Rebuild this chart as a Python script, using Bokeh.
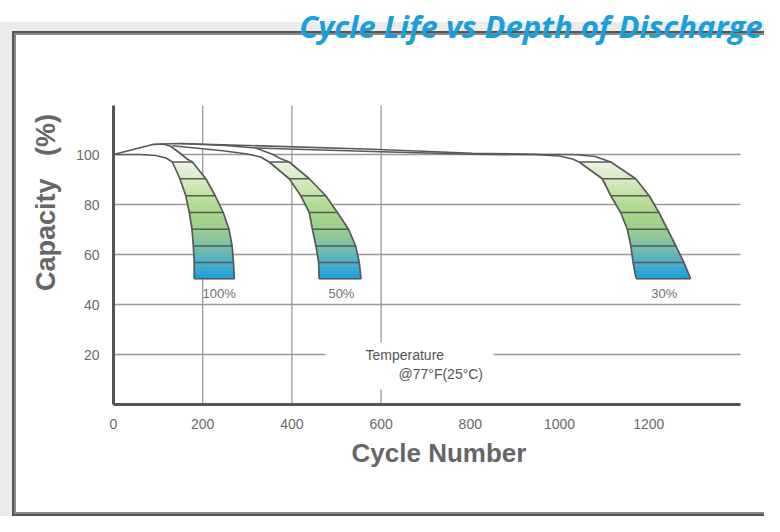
import numpy as np
from bokeh.plotting import figure
from bokeh.models import Range1d, FixedTicker, Label, BoxAnnotation
from bokeh.core.properties import value
from bokeh.embed import file_html
from bokeh.resources import INLINE

# ---------------- data ----------------
x_ticks = [0, 200, 400, 600, 800, 1000, 1200]
y_ticks = [20, 40, 60, 80, 100]
x_grid_ticks = [200, 400, 600]
x_axis_end = 1406      # right end of the cycle axis
y_axis_top = 119.6     # top end of the capacity axis

# capacity levels separating the coloured bands
band_levels = [97, 90.3, 83.5, 76.8, 70.1, 63.4, 56.8, 50.3]

# cycle numbers of each curve's inner / outer edge at the band levels
dod100_inner = [132, 149, 162, 170, 176, 179, 181, 181]
dod100_outer = [177, 207, 228, 246, 259, 266, 269, 271]
dod50_inner = [349, 394, 420, 439, 446, 454, 460, 461]
dod50_outer = [394, 439, 476, 502, 527, 543, 551, 555]
dod30_inner = [1044, 1096, 1115, 1137, 1152, 1160, 1165, 1172]
dod30_outer = [1115, 1171, 1201, 1223, 1242, 1261, 1279, 1294]

# upper (nearly flat) part of each edge: cycles and capacity
dod100_inner_top_x = [0, 60, 95, 118]
dod100_inner_top_y = [100, 100, 99.6, 98.6]
dod100_outer_top_x = [0, 88, 112, 128, 147, 165]
dod100_outer_top_y = [100, 104, 104.2, 103.3, 100.8, 98.2]
dod50_inner_top_x = [132, 245, 300, 330]
dod50_inner_top_y = [103.5, 101.5, 100.2, 99.0]
dod50_outer_top_x = [150, 250, 319, 356, 375]
dod50_outer_top_y = [104.4, 103.6, 102.6, 100.1, 98.3]
dod30_inner_top_x = [319, 580, 805, 950, 1000, 1029]
dod30_inner_top_y = [102.6, 101.2, 100.1, 99.9, 99.4, 98.2]
dod30_outer_top_x = [88, 112, 150, 580, 805, 955, 1040, 1080]
dod30_outer_top_y = [104, 104.2, 104.4, 102.1, 100.5, 100.1, 99.9, 99.2]

dod_labels = ["100%", "50%", "30%"]
dod_label_x = [237, 511, 1235]
dod_label_y = [44.4, 44.4, 44.4]

# ---------------- styling helpers ----------------
ramp_caps = [50, 57, 63, 70, 77, 83, 90, 97, 100]
ramp_rgb = [(20, 160, 220), (80, 175, 200), (120, 190, 170), (155, 207, 140),
            (170, 215, 140), (190, 226, 160), (214, 236, 196), (236, 245, 228),
            (255, 255, 255)]


def ramp(c):
    r = np.interp(c, ramp_caps, [t[0] for t in ramp_rgb])
    g = np.interp(c, ramp_caps, [t[1] for t in ramp_rgb])
    b = np.interp(c, ramp_caps, [t[2] for t in ramp_rgb])
    return "#%02x%02x%02x" % (int(r), int(g), int(b))


W, H = 764, 516
FRAME_L, FRAME_B = 113, 404
PX_PER_CYCLE = 0.446
PX_PER_PCT = 2.5

p = figure(width=W, height=H,
           x_range=Range1d(0, (W - FRAME_L) / PX_PER_CYCLE),
           y_range=Range1d(0, FRAME_B / PX_PER_PCT),
           output_backend="svg", toolbar_location=None,
           min_border_left=FRAME_L, min_border_right=0,
           min_border_top=0, min_border_bottom=H - FRAME_B)
p.outline_line_color = None
p.border_fill_color = None
p.background_fill_color = None
p.title.text = ""
p.xgrid.visible = False
p.ygrid.visible = False

# page frame (grey surround, dark border, white panel) painted behind the canvas
p.styles = {
    "background": (
        "linear-gradient(#ffffff,#ffffff) 16px 35px / 100% 477px no-repeat,"
        "linear-gradient(#8a8a8a,#8a8a8a) 14px 33px / 100% 481px no-repeat,"
        "linear-gradient(#555555,#555555) 12px 31px / 100% 485px no-repeat,"
        "linear-gradient(#ebebeb,#ebebeb) 0px 22px / 100% 100% no-repeat,"
        "#ffffff"
    )
}

xax = p.below[0]
yax = p.left[0]

# axes
for ax in (xax, yax):
    ax.axis_line_color = "#555555"
    ax.axis_line_width = 3
    ax.major_tick_line_color = None
    ax.minor_tick_line_color = None
    ax.major_tick_out = 0
    ax.major_tick_in = 0
    ax.minor_tick_out = 0
    ax.minor_tick_in = 0
    ax.major_label_text_font = "Liberation Sans"
    ax.major_label_text_font_size = "14px"
    ax.major_label_text_color = "#6a6a6a"
    ax.axis_label_text_font = "Liberation Sans"
    ax.axis_label_text_font_style = "bold"
    ax.axis_label_text_font_size = "26px"
    ax.axis_label_text_color = "#666666"

xax.ticker = FixedTicker(ticks=x_ticks)
yax.ticker = FixedTicker(ticks=y_ticks)
xax.bounds = (0, x_axis_end)
yax.bounds = (0, y_axis_top)
xax.major_label_standoff = 14
yax.major_label_standoff = 14
xax.axis_label = "Cycle Number"
xax.axis_label_standoff = 6
yax.axis_label = "Capacity\u00a0\u00a0\u00a0(%)"
yax.axis_label_text_font_size = "27px"
yax.axis_label_standoff = 12

# grid lines, limited to the axis extents
GRID_C = "#999999"
p.segment(x0=[0] * len(y_ticks), y0=y_ticks, x1=[x_axis_end] * len(y_ticks), y1=y_ticks,
          line_color=GRID_C, line_width=1.3, level="underlay")
p.segment(x0=x_grid_ticks, y0=[0] * len(x_grid_ticks), x1=x_grid_ticks,
          y1=[y_axis_top] * len(x_grid_ticks),
          line_color=GRID_C, line_width=1.3, level="underlay")

# white box behind temperature note (interrupts grid lines)
p.add_layout(BoxAnnotation(left=475, right=852, bottom=6, top=24.8,
                           fill_color="white", fill_alpha=1, line_color=None,
                           level="glyph"))

curves = [
    (dod100_inner_top_x, dod100_inner_top_y, dod100_outer_top_x, dod100_outer_top_y, dod100_inner, dod100_outer),
    (dod50_inner_top_x, dod50_inner_top_y, dod50_outer_top_x, dod50_outer_top_y, dod50_inner, dod50_outer),
    (dod30_inner_top_x, dod30_inner_top_y, dod30_outer_top_x, dod30_outer_top_y, dod30_inner, dod30_outer),
]

N_SUB = 6
strip_xs, strip_ys, strip_cols = [], [], []
top_xs, top_ys = [], []
for itx, ity, otx, oty, inn, out in curves:
    top_xs.append(list(itx) + [inn[0], out[0]] + list(otx)[::-1])
    top_ys.append(list(ity) + [band_levels[0], band_levels[0]] + list(oty)[::-1])
    for i in range(len(band_levels) - 1):
        hi, lo = band_levels[i], band_levels[i + 1]
        for k in range(N_SUB):
            y0 = hi - (hi - lo) * k / N_SUB
            y1 = hi - (hi - lo) * (k + 1) / N_SUB
            xi0 = inn[i] + (inn[i + 1] - inn[i]) * k / N_SUB
            xi1 = inn[i] + (inn[i + 1] - inn[i]) * (k + 1) / N_SUB
            xo0 = out[i] + (out[i + 1] - out[i]) * k / N_SUB
            xo1 = out[i] + (out[i + 1] - out[i]) * (k + 1) / N_SUB
            strip_xs.append([xi0, xo0, xo1, xi1])
            strip_ys.append([y0, y0, y1, y1])
            strip_cols.append(ramp((y0 + y1) / 2))

p.patches(top_xs, top_ys, fill_color="white", line_color=None)
p.patches(strip_xs, strip_ys, fill_color=strip_cols, line_color=strip_cols, line_width=0.6)

LINE_C = "#595959"
for itx, ity, otx, oty, inn, out in curves:
    p.line(list(itx) + inn, list(ity) + band_levels, line_color=LINE_C, line_width=1.7)
    p.line(list(otx) + out, list(oty) + band_levels, line_color=LINE_C, line_width=1.7)
    p.segment(x0=inn, y0=band_levels, x1=out, y1=band_levels, line_color=LINE_C, line_width=1.7)

p.text(x=dod_label_x, y=dod_label_y, text=dod_labels, text_align="center",
       text_baseline="middle", text_font=value("Liberation Sans"),
       text_font_size="13px", text_color="#707070")

p.add_layout(Label(x=565, y=20, text="Temperature", text_align="left",
                   text_baseline="middle", text_font="Liberation Sans",
                   text_font_size="14px", text_color="#555555"))
p.add_layout(Label(x=639, y=12.4, text="@77°F(25°C)", text_align="left",
                   text_baseline="middle", text_font="Liberation Sans",
                   text_font_size="14px", text_color="#555555"))

# chart title, placed in the top strip above the chart panel
p.add_layout(Label(x=(762 - FRAME_L) / PX_PER_CYCLE, y=(FRAME_B - 25) / PX_PER_PCT,
                   text="Cycle Life vs Depth of Discharge", text_align="right",
                   text_baseline="alphabetic", text_font="Open Sans",
                   text_font_style="bold italic", text_font_size="31px",
                   text_color="#1a9fda"))

open("out.html", "w").write(file_html(p, INLINE))
